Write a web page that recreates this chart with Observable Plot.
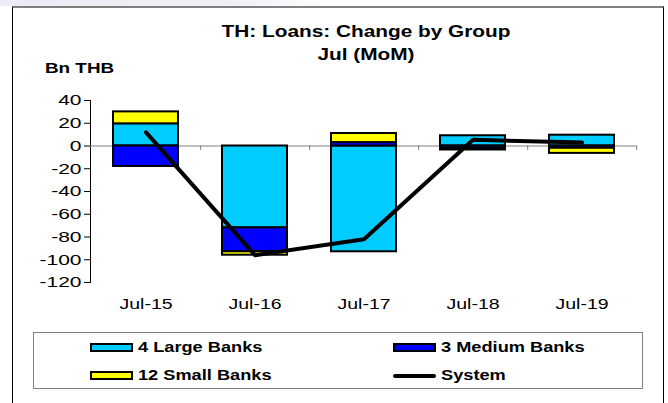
<!DOCTYPE html>
<html><head><meta charset="utf-8">
<script src="https://cdn.jsdelivr.net/npm/d3@7"></script>
<script src="https://cdn.jsdelivr.net/npm/@observablehq/plot@0.6"></script>
<style>
body{margin:0;background:#fff;font-family:"Liberation Sans",Arial,sans-serif;}
#wrap{position:relative;width:668px;height:403px;overflow:hidden;background:#fff;}
#band{position:absolute;left:0;top:0;width:668px;height:6px;background:linear-gradient(to right,#ebebf5 0%,#f0f0f8 35%,#ffffff 50%);}
#frame{position:absolute;left:12px;top:6px;width:650px;height:420px;border-left:1px solid #000;border-right:1px solid #000;border-top:2px solid #7f7f7f;}
#chart{position:absolute;left:0;top:0;}
#chart text{font-weight:normal;}
.t{position:absolute;white-space:nowrap;font-weight:bold;color:#000;transform-origin:0 0;}
.c{transform:scaleX(1.3) translateX(-50%);}
.l{transform:scaleX(1.3);}
#legend{position:absolute;left:33px;top:332px;width:608px;height:55px;border:1px solid #808080;}
.sw{position:absolute;width:39px;height:5px;border:2px solid #000;}
.ln{position:absolute;width:43px;height:4px;background:#000;border-radius:2px;}
</style></head>
<body>
<div id="wrap">
  <div id="band"></div>
  <div id="frame"></div>
  <div id="chart"></div>
  <div id="title1" class="t c" style="left:366px;top:24px;font-size:16px;line-height:16px;"></div>
  <div id="title2" class="t c" style="left:366px;top:47px;font-size:16px;line-height:16px;"></div>
  <div id="unit" class="t l" style="left:45px;top:61px;font-size:14.5px;line-height:14.5px;"></div>
  <div id="legend"></div>
</div>
<script>
const categories = ["Jul-15", "Jul-16", "Jul-17", "Jul-18", "Jul-19"];
const seriesNames = ["4 Large Banks", "3 Medium Banks", "12 Small Banks", "System"];
const largeBanks = [19.5, -72, -93, 9, 9.5];
const mediumBanks = [-18, -21, 3, -2, -2];
const smallBanks = [10.5, -3, 8, -1.5, -4.5];
const system = [12, -96, -82, 5.5, 3];
const yTicks = [40, 20, 0, -20, -40, -60, -80, -100, -120];
const barColors = ["#00ccff", "#0000ff", "#ffff00"];
const titleLines = ["TH: Loans: Change by Group", "Jul (MoM)"];
const unitLabel = "Bn THB";

const SX = 1.3, SY = 1.4; // horizontal text stretch of the reference

const stackRows = [];
[largeBanks, mediumBanks, smallBanks].forEach((vals, k) =>
  vals.forEach((v, i) => stackRows.push({cat: categories[i], group: seriesNames[k], value: v})));
const lineRows = categories.map((c, i) => ({cat: c, value: system[i]}));

const W = 668, ML = 90, MR = 31;
const pInner = 0.406, pOuter = pInner / 2;
const step = (W - ML - MR) / categories.length;

const chart = Plot.plot({
  width: W, height: 312,
  marginLeft: ML, marginRight: MR, marginTop: 100, marginBottom: 30,
  style: {fontFamily: "'Liberation Sans', Arial, sans-serif", fontSize: "15px", fontWeight: "normal", color: "#000", background: "transparent", overflow: "visible"},
  x: {domain: categories, paddingInner: pInner, paddingOuter: pOuter, label: null, tickSize: 0, tickPadding: 16},
  y: {domain: [-120, 40], ticks: yTicks, tickFormat: d => String(d), label: null, tickSize: 6, tickPadding: 3, line: true},
  color: {domain: seriesNames.slice(0, 3), range: barColors},
  marks: [
    Plot.ruleY([0], {stroke: "#808080", strokeWidth: 1}),
    Plot.ruleX(categories, {x: d => d, y1: 0, y2: -4, dx: step / 2, stroke: "#808080"}),
    Plot.barY(stackRows, {x: "cat", y: "value", fill: "group", stroke: "#000", strokeWidth: 2}),
    Plot.lineY(lineRows, {x: "cat", y: "value", stroke: "#000", strokeWidth: 4, strokeLinecap: "round"})
  ]
});
document.getElementById("chart").appendChild(chart);
chart.querySelectorAll("text").forEach(t => {
  const len = t.getComputedTextLength();
  const anchor = t.getAttribute("text-anchor") || (t.parentNode && t.parentNode.getAttribute && t.parentNode.getAttribute("text-anchor")) || "";
  const s = anchor === "end" ? SY : SX;
  if (isFinite(len) && len > 0) {
    t.setAttribute("textLength", (len * s).toFixed(2));
    t.setAttribute("lengthAdjust", "spacingAndGlyphs");
  }
});
document.getElementById("title1").textContent = titleLines[0];
document.getElementById("title2").textContent = titleLines[1];
document.getElementById("unit").textContent = unitLabel;

// legend
const legend = document.getElementById("legend");
const items = [
  {name: seriesNames[0], color: barColors[0], x: 56, y: 10},
  {name: seriesNames[1], color: barColors[1], x: 359, y: 10},
  {name: seriesNames[2], color: barColors[2], x: 56, y: 38},
  {name: seriesNames[3], color: null, x: 359, y: 38}
];
items.forEach(it => {
  const sw = document.createElement("div");
  if (it.color) { sw.className = "sw"; sw.style.background = it.color; sw.style.left = it.x + "px"; sw.style.top = it.y + "px"; }
  else { sw.className = "ln"; sw.style.left = it.x + "px"; sw.style.top = (it.y + 3) + "px"; }
  legend.appendChild(sw);
  const tx = document.createElement("div");
  tx.className = "t l";
  tx.style.left = (it.x + 48) + "px";
  tx.style.top = (it.y - 3) + "px";
  tx.style.fontSize = "14px";
  tx.style.lineHeight = "14px";
  tx.textContent = it.name;
  legend.appendChild(tx);
});
</script>
</body></html>
